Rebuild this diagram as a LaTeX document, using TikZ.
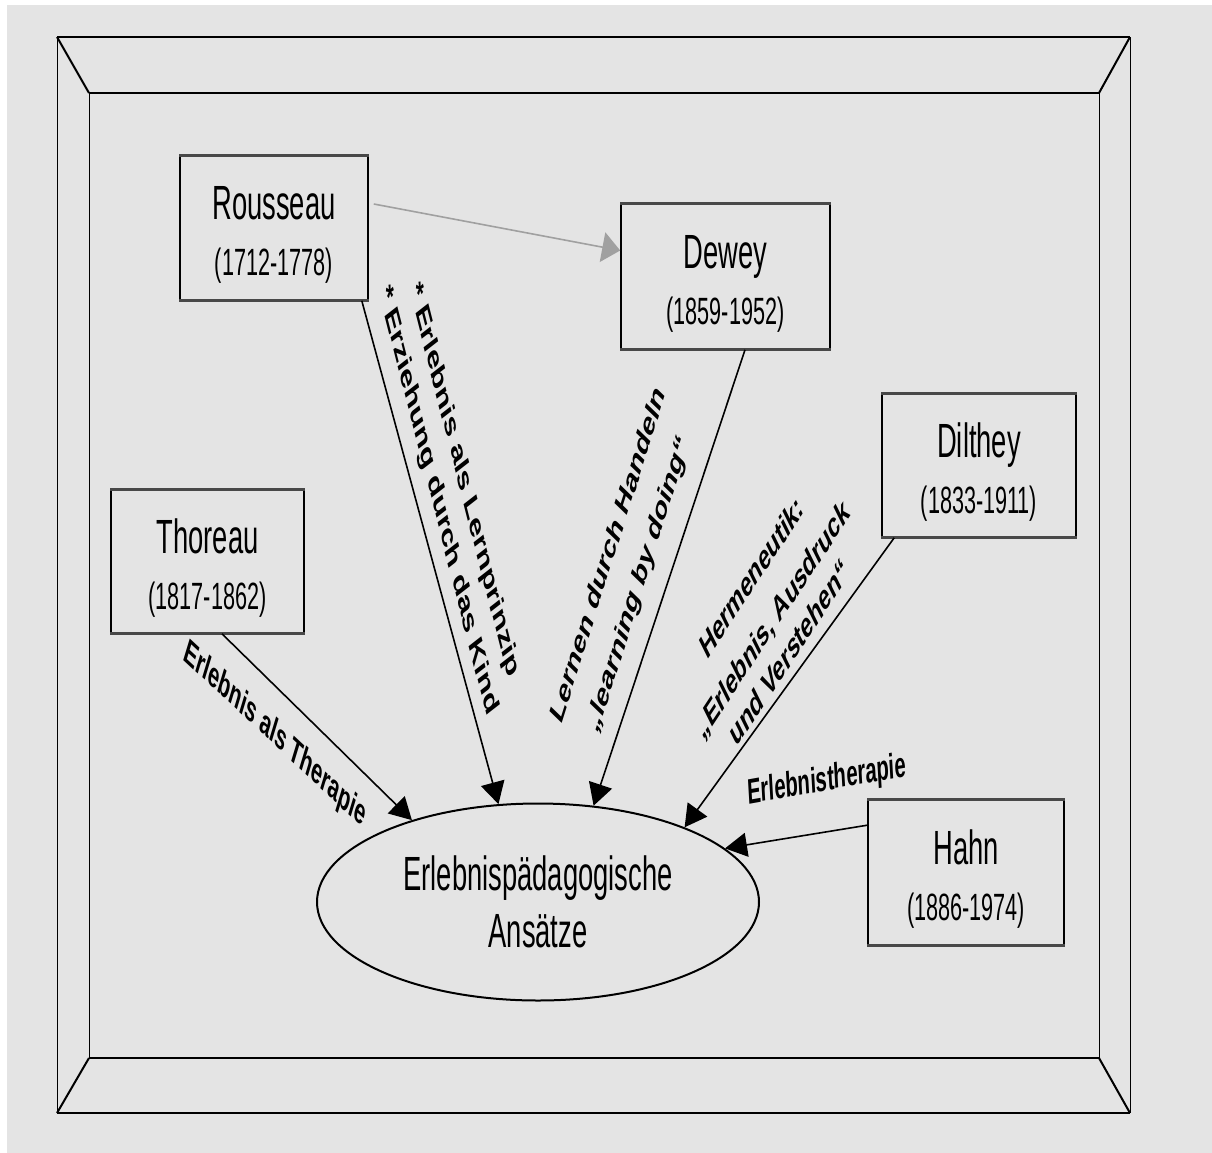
\documentclass[tikz,border=0pt]{standalone}
\usepackage{fontspec}
\setmainfont{Liberation Sans}
\usetikzlibrary{shapes.geometric,arrows.meta,calc}
\definecolor{paper}{RGB}{228,228,228}
\definecolor{rim}{RGB}{72,72,72}
\definecolor{faint}{RGB}{160,160,160}
% narrow lettering
\newcommand\narrow[1]{\scalebox{0.57}[1]{#1}}
\newcommand\person[2]{\rule{0pt}{23.5pt}\narrow{#1}\\\narrow{\fontsize{19}{28}\selectfont #2}}
\begin{document}
\begin{tikzpicture}[x=0.5pt,y=-0.5pt,
  personbox/.style={draw=black, line width=0.8pt, align=center, inner sep=0pt,
    font=\fontsize{24}{28}\selectfont},
  lab/.style={font=\bfseries\fontsize{17.8}{25}\selectfont, align=center,
    xscale=0.57, inner sep=0pt},
  link/.style={line width=0.8pt, -{Triangle[length=11pt,width=12pt]}},
  thinrim/.style={line width=0.5pt},
  thickrim/.style={line width=1.4pt},
  bevel/.style={line width=1pt}]
\useasboundingbox (0,0) rectangle (1212,1153);
\fill[white] (0,0) rectangle (1212,1153);
\fill[paper] (7,5) rectangle (1212,1153);

% bevelled frame
\draw[thinrim] (57,37) -- (57,1113) (1130,37) -- (1130,1113)
               (89,93) -- (89,1058) (1099,93) -- (1099,1058);
\draw[thickrim] (57,37) -- (1130,37) (89,93) -- (1099,93)
                (89,1058) -- (1099,1058) (57,1113) -- (1130,1113);
\draw[bevel] (57,37) -- (89,93) (1130,37) -- (1099,93)
             (57,1113) -- (89,1058) (1130,1113) -- (1099,1058);

% persons
\node[personbox, minimum width=94pt,   minimum height=72pt]   (rou) at (274,228)   {\person{Rousseau}{(1712-1778)}};
\node[personbox, minimum width=104.5pt, minimum height=72.5pt] (dew) at (725.5,276.5) {\person{Dewey}{(1859-1952)}};
\node[personbox, minimum width=97pt,   minimum height=71.5pt] (dil) at (979,465.5) {\person{Dilthey}{(1833-1911)}};
\node[personbox, minimum width=96.5pt, minimum height=71.5pt] (tho) at (207.5,561.5) {\person{Thoreau}{(1817-1862)}};
\node[personbox, minimum width=98pt,   minimum height=72.5pt] (hah) at (966,872.5) {\person{Hahn}{(1886-1974)}};
\foreach \n in {rou,dew,dil,tho,hah}
  \draw[rim, line width=1.5pt] (\n.north west) -- (\n.north east)
                               (\n.south west) -- (\n.south east);

% centre
\node[ellipse, draw=black, line width=1pt, minimum width=221pt, minimum height=98.5pt,
      inner sep=0pt, align=center, font=\fontsize{24}{28.5}\selectfont]
  (ell) at (538,902) {\narrow{Erlebnispädagogische}\\\narrow{Ansätze}};

% influences
\draw[link, draw=faint, -{Triangle[length=9pt,width=15pt]}, faint]
  ($(rou.east)+(5,-24)$) -- ($(dew.west)+(0,-26)$);
\draw[link] ($(rou.south east)+(-7,0)$) -- (ell.112);
\draw[link] ($(dew.south)+(19.5,0)$) -- (ell.60);
\draw[link] ($(dil.south west)+(13,0)$) -- (ell.27);
\draw[link] ($(tho.south)+(14.5,0)$) -- (ell.147);
\draw[link] ($(hah.north west)+(0,26)$) -- (ell.16);

% labels
\node[lab, rotate=-66] (l1) at (451,491) {* Erlebnis als Lernprinzip\\* Erziehung durch das Kind};
\node[lab, rotate=61, font=\bfseries\fontsize{17.8}{30}\selectfont] (l2) at (624,570)
  {Lernen durch Handeln\\„learning by doing“};
\node[lab, rotate=41, font=\bfseries\fontsize{17.8}{28}\selectfont] (l3) at (770,614)
  {Hermeneutik:\\„Erlebnis, Ausdruck\\[-6pt]und Verstehen“};
\node[lab, rotate=-28] (l4) at (275,735) {Erlebnis als Therapie};
\node[lab, rotate=5.8] (l5) at (827,781) {Erlebnistherapie};
\end{tikzpicture}
\end{document}
